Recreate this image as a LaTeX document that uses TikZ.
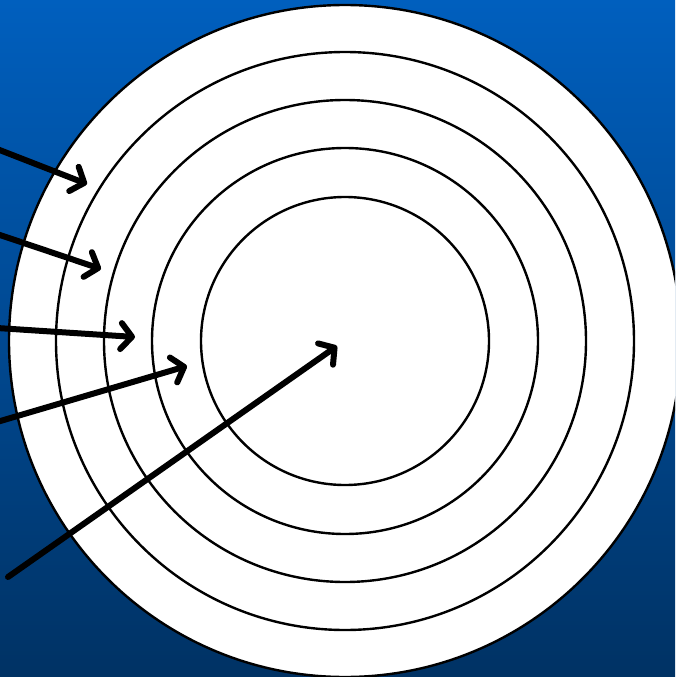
\documentclass[tikz,border=0pt]{standalone}
\usetikzlibrary{arrows.meta}
\definecolor{bgtop}{RGB}{0,95,190}
\definecolor{bgbot}{RGB}{0,50,100}
\tikzset{
  ring/.style={draw=black, fill=white, line width=2.4pt},
  pointer/.style={draw=black, line width=6pt, line cap=round,
    -{Straight Barb[length=11pt, width=26pt, line width=6pt, round]}}
}
\begin{document}
\begin{tikzpicture}[x=1pt,y=-1pt]
\useasboundingbox (0,0) rectangle (675,677);
\clip (0,0) rectangle (675,677);
\shade[top color=bgtop, bottom color=bgbot] (0,0) rectangle (675,677);
\coordinate (c) at (345,341);
\path[ring] (c) circle[radius=336];
\path[ring] (c) circle[radius=289];
\path[ring] (c) circle[radius=241];
\path[ring] (c) circle[radius=193];
\path[ring] (c) circle[radius=144];
\coordinate (s1) at (-3,149);
\coordinate (t1) at (87,184);
\coordinate (s2) at (-3,234);
\coordinate (t2) at (101,269);
\coordinate (s3) at (-3,328);
\coordinate (t3) at (135,337);
\coordinate (s4) at (-3,422);
\coordinate (t4) at (187,366);
\coordinate (s5) at (8,577);
\coordinate (t5) at (337,346);
\draw[pointer] (s1) -- (t1);
\draw[pointer] (s2) -- (t2);
\draw[pointer] (s3) -- (t3);
\draw[pointer] (s4) -- (t4);
\draw[pointer] (s5) -- (t5);
\end{tikzpicture}
\end{document}
